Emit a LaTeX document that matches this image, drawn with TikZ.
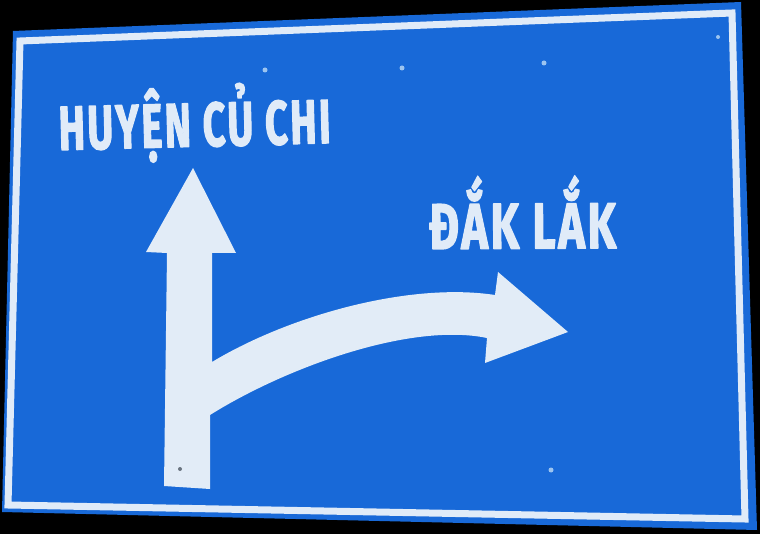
\documentclass[tikz,border=0pt]{standalone}
\usepackage{fontspec}
\setmainfont{Fira Sans}
\usepackage{graphicx}
\definecolor{signblue}{HTML}{1869D8}
\definecolor{signwhite}{HTML}{E0EBF8}
\definecolor{arrowwhite}{HTML}{E2ECF7}
\definecolor{boltlight}{HTML}{9CC4F0}
\definecolor{boltdark}{HTML}{6A7480}
\newcommand\signtxt[3]{\resizebox{#1}{\height}{\fontsize{#2}{#2}\selectfont\addfontfeatures{LetterSpace=6}\special{pdf:literal 2 Tr 1.5 w 1 j}#3\special{pdf:literal 0 Tr}}}
\begin{document}
\begin{tikzpicture}[x=1pt,y=-1pt,
  signtext/.style={text=signwhite,inner sep=0pt,font=\bfseries},
  boltl/.style={fill=boltlight},
  boltd/.style={fill=boltdark}]
\useasboundingbox (0,0) rectangle (760,534);
\fill[black] (0,0) rectangle (760,534);
% sign plate
\fill[signblue] (13,31) -- (741,2) -- (757,530) -- (2,512) -- cycle;
% white border
\draw[signwhite,line width=7pt,line join=miter] (20,41) -- (732,13) -- (745,519) -- (8,505) -- cycle;
% arrows
\fill[arrowwhite] (193,168) -- (236,253) -- (212,253) -- (212,362)
  .. controls (290,315) and (410,282) .. (495,295) -- (498,272) -- (568,332) -- (485,363) -- (487,338)
  .. controls (410,322) and (285,368) .. (210,415) -- (210,489) -- (164,486) -- (167,253) -- (146,252) -- cycle;
% bolts
\fill[boltl] (265,70) circle (2.5);
\fill[boltl] (402,68) circle (2.5);
\fill[boltl] (544,63) circle (2.5);
\fill[boltl] (718,37) circle (2);
\fill[boltl] (551,470) circle (2.5);
\fill[boltd] (180,469) circle (2);
% texts
\node[signtext,anchor=base west,rotate=1.5] (huyen) at (59,150) {\signtxt{272pt}{62pt}{HUYỆN CỦ CHI}};
\node[signtext,anchor=base west,rotate=0.3] (daklak) at (429,249) {\signtxt{187pt}{64.5pt}{ĐẮK LẮK}};
\end{tikzpicture}
\end{document}
